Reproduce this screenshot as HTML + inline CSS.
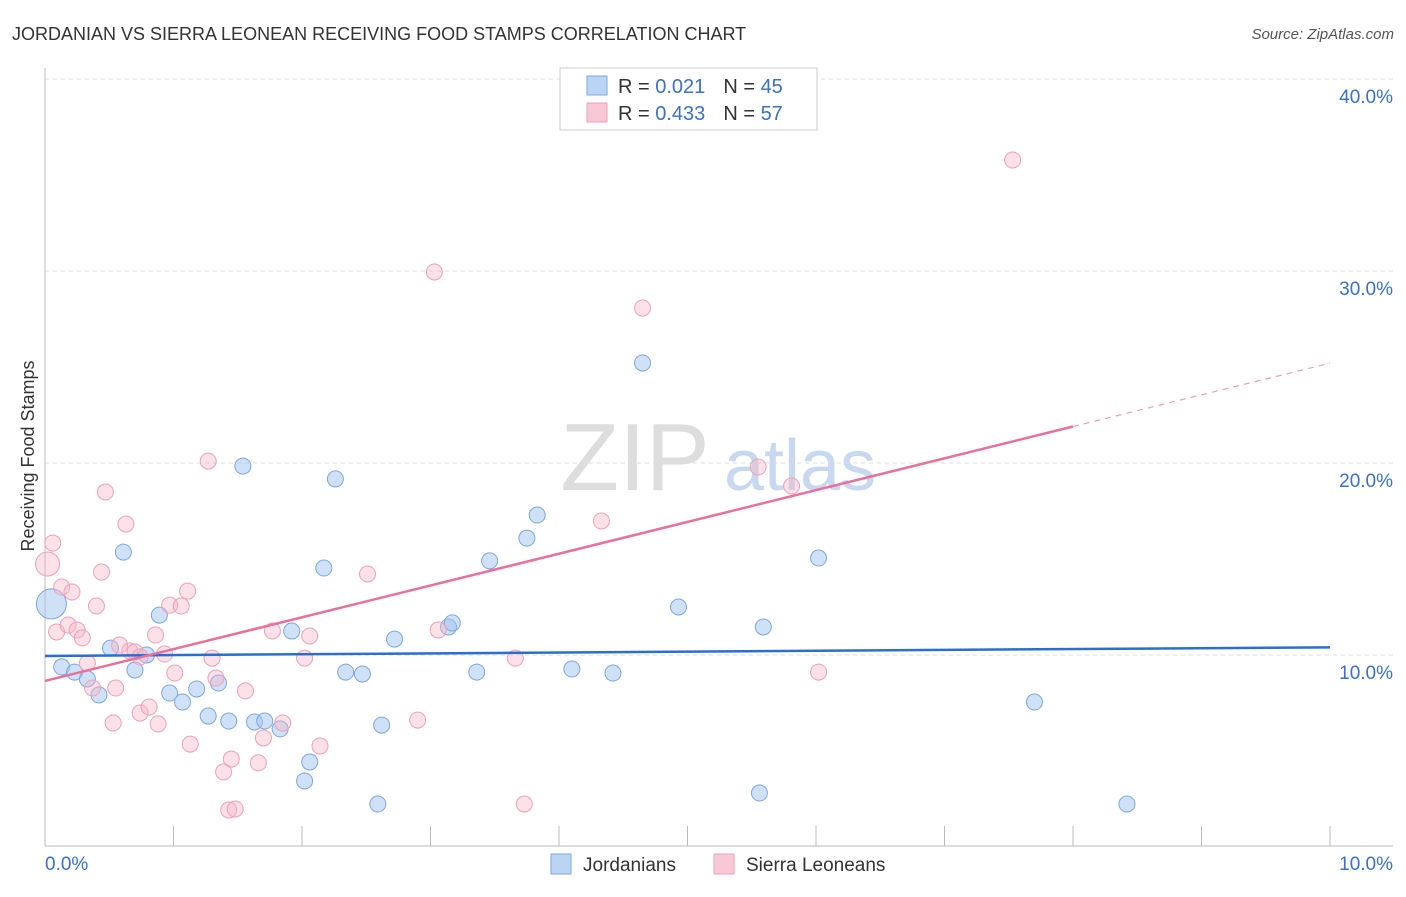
<!DOCTYPE html>
<html><head><meta charset="utf-8"><style>
body{margin:0;background:#fff;font-family:"Liberation Sans",sans-serif}
svg text{font-family:"Liberation Sans",sans-serif}
</style></head><body>
<svg id="chart" width="1406" height="892" viewBox="0 0 1406 892">
<text x="12" y="40" font-size="18" fill="#333">JORDANIAN VS SIERRA LEONEAN RECEIVING FOOD STAMPS CORRELATION CHART</text>
<text x="1394" y="39" font-size="15" fill="#555" font-style="italic" text-anchor="end">Source: ZipAtlas.com</text>
<text x="635" y="490" font-size="96" fill="#ddd" font-family="Liberation Serif" text-anchor="middle">ZIP</text>
<text x="800" y="490" font-size="72" fill="#c8d8f0" text-anchor="middle">atlas</text>
<text transform="translate(34,456) rotate(-90)" font-size="18" fill="#333" text-anchor="middle">Receiving Food Stamps</text>
<g id="grid"></g><g id="axes"></g><g id="pts"></g><g id="lines"></g>
<g>
<rect x="560" y="68" width="257" height="62" fill="#fff" stroke="#ccc"/>
<rect x="587" y="76" width="20" height="19" fill="#bcd4f4" stroke="#7ea7e0"/>
<rect x="587" y="103" width="20" height="19" fill="#f8c8d6" stroke="#f0a0b8"/>
<text x="618" y="93" font-size="20" fill="#333">R = <tspan fill="#3a70cc">0.021</tspan><tspan dx="18">N = </tspan><tspan fill="#3a70cc">45</tspan></text>
<text x="618" y="120" font-size="20" fill="#333">R = <tspan fill="#3a70cc">0.433</tspan><tspan dx="18">N = </tspan><tspan fill="#3a70cc">57</tspan></text>
</g>
<g>
<rect x="551" y="854" width="20" height="20" fill="#bcd4f4" stroke="#7ea7e0"/>
<text x="583" y="871" font-size="19" fill="#333">Jordanians</text>
<rect x="714" y="854" width="20" height="20" fill="#f8c8d6" stroke="#f0a0b8"/>
<text x="746" y="871" font-size="19" fill="#333">Sierra Leoneans</text>
</g>
</svg>
<script>
const yTicks=[10,20,30,40];
const yTickLabels=["10.0%","20.0%","30.0%","40.0%"];
const xTickLabels=["0.0%","10.0%"];
const blueX=[0.05,0.13,0.23,0.33,0.42,0.51,0.61,0.70,0.79,0.89,0.97,1.07,1.18,1.27,1.35,1.43,1.54,1.63,1.71,1.83,1.92,2.06,2.02,2.17,2.26,2.34,2.47,2.59,2.62,2.72,3.14,3.17,3.36,3.46,3.75,3.83,4.10,4.42,4.65,4.93,5.56,5.59,6.02,7.70,8.42];
const blueY=[12.66,9.38,9.11,8.75,7.92,10.36,15.36,9.22,10.0,12.08,8.02,7.55,8.23,6.82,8.54,6.56,19.84,6.51,6.56,6.15,11.25,4.43,3.44,14.53,19.17,9.11,9.01,2.24,6.35,10.83,11.46,11.67,9.11,14.90,16.09,17.29,9.27,9.06,25.21,12.5,2.81,11.46,15.05,7.55,2.24];
const pinkX=[0.02,0.06,0.09,0.13,0.18,0.21,0.25,0.29,0.33,0.37,0.40,0.44,0.47,0.53,0.55,0.58,0.63,0.66,0.70,0.74,0.81,0.86,0.88,0.93,0.97,1.01,1.06,1.11,1.13,1.27,1.30,1.33,1.39,1.43,1.48,1.45,1.56,1.66,1.70,1.77,1.85,2.02,2.06,2.14,2.51,2.90,3.03,3.06,3.66,3.73,4.33,4.65,5.55,5.81,6.02,7.53,0.74];
const pinkY=[14.74,15.83,11.2,13.54,11.56,13.28,11.3,10.89,9.58,8.28,12.55,14.32,18.49,6.46,8.28,10.52,16.82,10.21,10.16,6.98,7.29,11.04,6.41,10.05,12.6,9.06,12.55,13.33,5.36,20.1,9.84,8.8,3.91,1.93,1.98,4.58,8.13,4.38,5.68,11.25,6.46,9.84,10.99,5.26,14.22,6.61,29.95,11.3,9.84,2.24,16.98,28.07,19.79,18.8,9.11,35.78,9.9];
const blueLine=[[0,9.95],[10,10.4]];
const pinkLine=[[0,8.65],[8,21.9]];
const pinkDash=[[8,21.9],[10,25.2]];
const NS="http://www.w3.org/2000/svg";
const X=v=>45+v*128.5, Y=v=>847-v*19.2;
function mk(tag,attrs,parent){const e=document.createElementNS(NS,tag);for(const k in attrs)e.setAttribute(k,attrs[k]);document.getElementById(parent).appendChild(e);return e;}
yTicks.forEach((t,i)=>{
 const g=mk('line',{x1:45,x2:1393,y1:Y(t),y2:Y(t),stroke:'#ddd','stroke-dasharray':'4,4'},'grid');
 
 
 const l=mk('text',{x:1393,y:Y(t)+24,'font-size':19,fill:'#3a70cc','text-anchor':'end'},'grid');
 l.textContent=yTickLabels[i];
 
 
});
const ax=mk('line',{x1:45,x2:1393,y1:846,y2:846,stroke:'#bbb'},'axes');


const ay=mk('line',{x1:45,x2:45,y1:68,y2:846,stroke:'#bbb'},'axes');


for(let i=0;i<=10;i++){
 const t=mk('line',{x1:X(i),x2:X(i),y1:826,y2:846,stroke:'#bbb'},'axes');
 
 
}
[[0,'start',45],[10,'end',1393]].forEach((d,i)=>{
 const l=mk('text',{x:d[2],y:870,'font-size':19,fill:'#3a70cc','text-anchor':d[1]},'axes');
 l.textContent=xTickLabels[i];
 
 
});
blueX.forEach((x,i)=>{
 const c=mk('circle',{cx:X(x),cy:Y(blueY[i]),r:i==0?15:8,fill:'rgba(160,196,240,0.5)',stroke:'#7ea7e0','stroke-width':1},'pts');
 
 
});
pinkX.forEach((x,i)=>{
 const c=mk('circle',{cx:X(x),cy:Y(pinkY[i]),r:i==0?12:8,fill:'rgba(248,180,200,0.4)',stroke:'#f0a0b8','stroke-width':1},'pts');
 
 
});
const bl=mk('line',{x1:X(blueLine[0][0]),y1:Y(blueLine[0][1]),x2:X(blueLine[1][0]),y2:Y(blueLine[1][1]),stroke:'#2a6fd0','stroke-width':2.5},'lines');


const pl=mk('line',{x1:X(pinkLine[0][0]),y1:Y(pinkLine[0][1]),x2:X(pinkLine[1][0]),y2:Y(pinkLine[1][1]),stroke:'#e8709a','stroke-width':2.5},'lines');


const pd=mk('line',{x1:X(pinkDash[0][0]),y1:Y(pinkDash[0][1]),x2:X(pinkDash[1][0]),y2:Y(pinkDash[1][1]),stroke:'#f0a0b8','stroke-width':1.2,'stroke-dasharray':'6,5'},'lines');


</script>
</body></html>
